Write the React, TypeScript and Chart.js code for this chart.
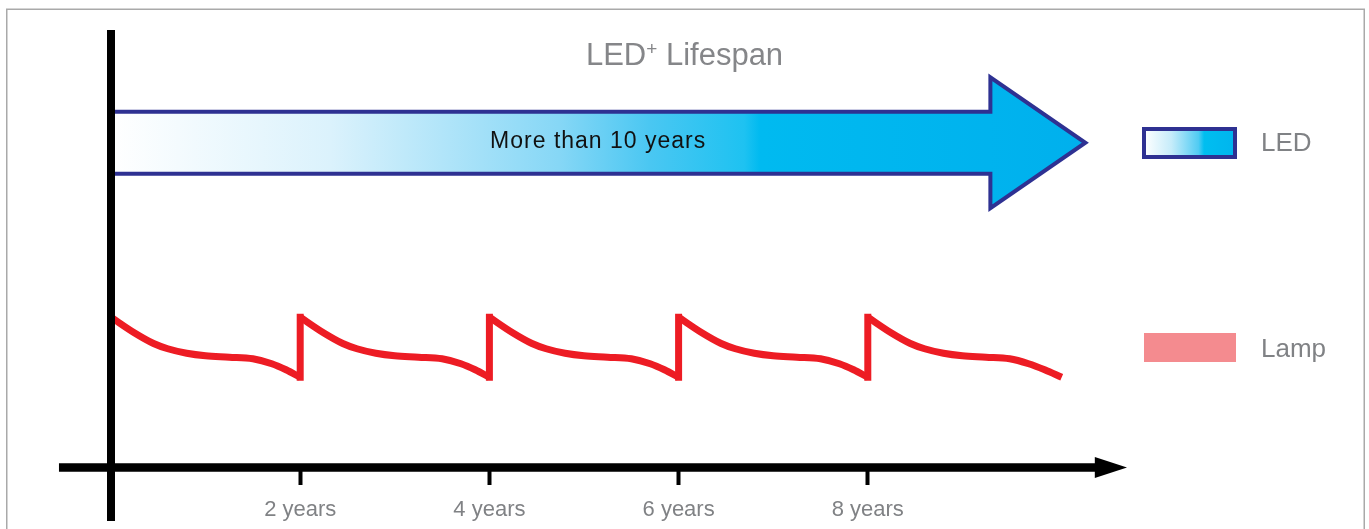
import React, { useEffect, useRef } from 'react';
import { Chart, registerables } from 'chart.js';

Chart.register(...registerables);

// ---- data ----
const xTickYears = [2, 4, 6, 8];

const lampCycle1Years = [0, 0.25, 0.45, 0.6, 0.8, 1.0, 1.25, 1.5, 1.7, 1.85, 2.0];
const lampCycle1Output = [100, 89.5, 82.5, 79, 76, 74.3, 73.4, 72.3, 69, 65, 60];
const lampCycle2Years = [2, 2.25, 2.45, 2.6, 2.8, 3.0, 3.25, 3.5, 3.7, 3.85, 4.0];
const lampCycle2Output = [100, 89.5, 82.5, 79, 76, 74.3, 73.4, 72.3, 69, 65, 60];
const lampCycle3Years = [4, 4.25, 4.45, 4.6, 4.8, 5.0, 5.25, 5.5, 5.7, 5.85, 6.0];
const lampCycle3Output = [100, 89.5, 82.5, 79, 76, 74.3, 73.4, 72.3, 69, 65, 60];
const lampCycle4Years = [6, 6.25, 6.45, 6.6, 6.8, 7.0, 7.25, 7.5, 7.7, 7.85, 8.0];
const lampCycle4Output = [100, 89.5, 82.5, 79, 76, 74.3, 73.4, 72.3, 69, 65, 60];
const lampCycle5Years = [8, 8.25, 8.45, 8.6, 8.8, 9.0, 9.25, 9.5, 9.7, 9.87, 10.05];
const lampCycle5Output = [100, 89.5, 82.5, 79, 76, 74.3, 73.4, 72.3, 69, 65, 60];

const lampJumpYears = [2, 4, 6, 8];
const lampJumpLow = [60, 60, 60, 60];
const lampJumpHigh = [100, 100, 100, 100];

const ledYears = [0, 10.3];
const ledLevel = [216, 216];

const FONT = '"Liberation Sans", Arial, Helvetica, sans-serif';
const GRAY = '#808285';
const LAMP_RED = '#ed1c24';
const LED_STROKE = '#2e3192';

const pts = (xs: number[], ys: number[]) => xs.map((x, i) => ({ x, y: ys[i] }));

const jumpData = () => {
  const out: { x: number; y: number | null }[] = [];
  lampJumpYears.forEach((x, i) => {
    out.push({ x, y: lampJumpLow[i] });
    out.push({ x, y: lampJumpHigh[i] });
    out.push({ x: x + 1, y: null });
  });
  return out;
};

const infographicPlugin = {
  id: 'infographic',
  beforeDraw(chart: any) {
    const ctx = chart.ctx;
    ctx.save();
    ctx.fillStyle = '#ffffff';
    ctx.fillRect(0, 0, chart.width, chart.height);
    ctx.strokeStyle = '#a9a9a9';
    ctx.lineWidth = 1.5;
    ctx.strokeRect(6.75, 9.25, 1357.5, 560);
    ctx.restore();
  },
  beforeDatasetsDraw(chart: any) {
    const ctx = chart.ctx;
    const meta = chart.getDatasetMeta(0);
    const p0 = meta.data[0];
    const p1 = meta.data[1];
    const left = p0.x;
    const tip = p1.x;
    const cy = p0.y;
    const bodyHalf = 31;
    const headHalf = 65.5;
    const headLen = 95;
    const base = tip - headLen;

    const g = ctx.createLinearGradient(left, 0, tip, 0);
    g.addColorStop(0, '#ffffff');
    g.addColorStop(0.225, '#dbf2fc');
    g.addColorStop(0.46, '#86d7f6');
    g.addColorStop(0.553, '#4ac7f2');
    g.addColorStop(0.65, '#1ec2f1');
    g.addColorStop(0.666, '#00baf0');
    g.addColorStop(1, '#00b0ed');

    ctx.save();
    ctx.beginPath();
    ctx.moveTo(left, cy - bodyHalf);
    ctx.lineTo(base, cy - bodyHalf);
    ctx.lineTo(base, cy - headHalf);
    ctx.lineTo(tip, cy);
    ctx.lineTo(base, cy + headHalf);
    ctx.lineTo(base, cy + bodyHalf);
    ctx.lineTo(left, cy + bodyHalf);
    ctx.closePath();
    ctx.fillStyle = g;
    ctx.fill();
    ctx.lineJoin = 'miter';
    ctx.miterLimit = 10;
    ctx.lineWidth = 4;
    ctx.strokeStyle = LED_STROKE;
    ctx.stroke();

    ctx.fillStyle = '#111111';
    ctx.font = `23px ${FONT}`;
    ctx.textAlign = 'center';
    ctx.textBaseline = 'alphabetic';
    (ctx as any).letterSpacing = '1px';
    ctx.fillText('More than 10 years', (left + tip) / 2, cy + 5.5);
    (ctx as any).letterSpacing = '0px';
    ctx.restore();
  },
  afterDatasetsDraw(chart: any) {
    const ctx = chart.ctx;
    const xs = chart.scales.x;
    const ys = chart.scales.y;
    const x0 = xs.getPixelForValue(0);
    const y0 = ys.getPixelForValue(0);
    const top = chart.chartArea.top;
    ctx.save();
    ctx.fillStyle = '#000000';
    // vertical axis
    ctx.fillRect(x0 - 4, top, 8, y0 + 53.5 - top);
    // horizontal axis with arrow head
    const xl = xs.getPixelForValue(-0.55);
    const xb = xs.getPixelForValue(10.4);
    const xt = xs.getPixelForValue(10.74);
    ctx.fillRect(xl, y0 - 4.25, xb - xl + 1, 8.5);
    ctx.beginPath();
    ctx.moveTo(xb, y0 - 10.5);
    ctx.lineTo(xt, y0);
    ctx.lineTo(xb, y0 + 10.5);
    ctx.closePath();
    ctx.fill();
    ctx.restore();
  },
  afterDraw(chart: any) {
    const ctx = chart.ctx;
    ctx.save();
    // title
    ctx.fillStyle = '#858689';
    ctx.textBaseline = 'alphabetic';
    ctx.textAlign = 'left';
    const big = `31px ${FONT}`;
    const small = `19px ${FONT}`;
    ctx.font = big;
    const w1 = ctx.measureText('LED').width;
    const w3 = ctx.measureText(' Lifespan').width;
    ctx.font = small;
    const w2 = ctx.measureText('+').width;
    const total = w1 + w2 + w3;
    let tx = chart.width / 2 - total / 2;
    const baseY = 65;
    ctx.font = big;
    ctx.fillText('LED', tx, baseY);
    tx += w1;
    ctx.font = small;
    ctx.fillText('+', tx, baseY - 10);
    tx += w2;
    ctx.font = big;
    ctx.fillText(' Lifespan', tx, baseY);

    // legend
    const lg = ctx.createLinearGradient(1144, 0, 1235, 0);
    lg.addColorStop(0, '#ffffff');
    lg.addColorStop(0.3, '#c6ecfa');
    lg.addColorStop(0.6, '#50cbf3');
    lg.addColorStop(0.66, '#00bef0');
    lg.addColorStop(1, '#00b5ee');
    ctx.fillStyle = lg;
    ctx.fillRect(1144, 129, 91, 28);
    ctx.strokeStyle = LED_STROKE;
    ctx.lineWidth = 4;
    ctx.strokeRect(1144, 129, 91, 28);
    ctx.fillStyle = '#f48b8f';
    ctx.fillRect(1144, 333, 92, 29);

    ctx.fillStyle = GRAY;
    ctx.font = `26px ${FONT}`;
    ctx.fillText(chart.data.datasets[0].label, 1261, 151);
    ctx.fillText(chart.data.datasets[1].label, 1261, 357);
    ctx.restore();
  },
};

export default function App() {
  const ref = useRef<HTMLCanvasElement | null>(null);

  useEffect(() => {
    if (!ref.current) return;
    const lampStyle = {
      borderColor: LAMP_RED,
      backgroundColor: LAMP_RED,
      borderWidth: 7,
      pointRadius: 0,
      fill: false,
      cubicInterpolationMode: 'monotone' as const,
      borderCapStyle: 'butt' as const,
    };
    const chart = new Chart(ref.current, {
      type: 'line',
      data: {
        datasets: [
          {
            label: 'LED',
            data: pts(ledYears, ledLevel),
            showLine: false,
            pointRadius: 0,
            borderColor: LED_STROKE,
            backgroundColor: '#00b5ee',
          },
          { label: 'Lamp', data: pts(lampCycle1Years, lampCycle1Output), ...lampStyle },
          { label: 'Lamp', data: pts(lampCycle2Years, lampCycle2Output), ...lampStyle },
          { label: 'Lamp', data: pts(lampCycle3Years, lampCycle3Output), ...lampStyle },
          { label: 'Lamp', data: pts(lampCycle4Years, lampCycle4Output), ...lampStyle },
          { label: 'Lamp', data: pts(lampCycle5Years, lampCycle5Output), ...lampStyle },
          {
            label: 'Lamp',
            data: jumpData() as any,
            borderColor: LAMP_RED,
            borderWidth: 7,
            pointRadius: 0,
            tension: 0,
            spanGaps: false,
            borderCapStyle: 'square',
            fill: false,
          },
        ],
      },
      options: {
        animation: false,
        responsive: true,
        maintainAspectRatio: false,
        events: [],
        layout: { padding: { left: 111, right: 217.4, top: 30, bottom: -5.4 } },
        plugins: {
          legend: { display: false },
          title: { display: false },
          tooltip: { enabled: false },
        },
        scales: {
          x: {
            type: 'linear',
            min: 0,
            max: 11,
            position: 'bottom',
            border: { display: false },
            grid: {
              display: true,
              drawOnChartArea: false,
              drawTicks: true,
              tickLength: 17.5,
              tickWidth: 4,
              tickColor: '#000000',
            },
            afterBuildTicks: (s: any) => {
              s.ticks = xTickYears.map((v) => ({ value: v }));
            },
            ticks: {
              color: GRAY,
              padding: 11.5,
              maxRotation: 0,
              autoSkip: false,
              font: { family: FONT, size: 22 },
              callback: (v: any) => `${v} years`,
            },
          },
          y: {
            type: 'linear',
            min: 0,
            max: 291,
            display: false,
          },
        },
      },
      plugins: [infographicPlugin],
    });
    return () => chart.destroy();
  }, []);

  return (
    <div style={{ position: 'fixed', left: 0, top: 0, width: 1369, height: 529, background: '#fff' }}>
      <canvas ref={ref} />
    </div>
  );
}
